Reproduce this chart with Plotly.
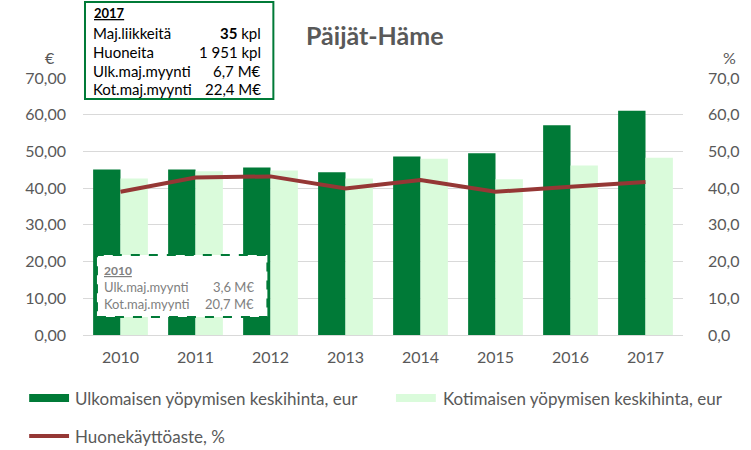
import plotly.graph_objects as go

# ---- data ----
years = ["2010", "2011", "2012", "2013", "2014", "2015", "2016", "2017"]
ulkomainen = [45.1, 45.1, 45.6, 44.3, 48.6, 49.5, 57.1, 61.1]
kotimainen = [42.6, 44.6, 44.8, 42.6, 48.0, 42.4, 46.2, 48.3]
kayttoaste = [39.0, 42.9, 43.2, 39.9, 42.2, 39.0, 40.4, 41.7]

left_tickvals = [0, 10, 20, 30, 40, 50, 60, 70]
left_ticktext = ["0,00", "10,00", "20,00", "30,00", "40,00", "50,00", "60,00", "70,00"]
right_ticktext = ["0,0", "10,0", "20,0", "30,0", "40,0", "50,0", "60,0", "70,0"]

names = ["Ulkomaisen yöpymisen keskihinta, eur",
         "Kotimaisen yöpymisen keskihinta, eur",
         "Huonekäyttöaste, %"]

# ---- style ----
W, H = 751, 450
ML, MR, MT, MB = 83, 66, 78, 115
DARK = "#007A37"
LIGHT = "#DAFBDB"
RED = "#953735"
GRID = "#D9D9D9"
TXT = "#595959"
FONT = "Lato"

PW = W - ML - MR
PH = H - MT - MB


def px(x):
    return (x - ML) / PW


def py(y):
    return (H - MB - y) / PH


fig = go.Figure()
fig.add_trace(go.Bar(x=years, y=ulkomainen, name=names[0], marker_color=DARK,
                     marker_line_width=0, showlegend=False))
fig.add_trace(go.Bar(x=years, y=kotimainen, name=names[1], marker_color=LIGHT,
                     marker_line_width=0, showlegend=False))
fig.add_trace(go.Scatter(x=years, y=kayttoaste, name=names[2], mode="lines",
                         line=dict(color=RED, width=4), yaxis="y2", showlegend=False))

shapes = []
annotations = []

# top info box
shapes.append(dict(type="rect", xref="paper", yref="paper", layer="above",
                   x0=px(85), x1=px(274), y0=py(99), y1=py(2),
                   line=dict(color=DARK, width=2), fillcolor="white"))
top_rows = [("Maj.liikkeitä", "<b>35</b> kpl", 33),
            ("Huoneita", "1 951 kpl", 52),
            ("Ulk.maj.myynti", "6,7 M€", 71),
            ("Kot.maj.myynti", "22,4 M€", 89)]
annotations.append(dict(text="<u><b>2017</b></u>", xref="paper", yref="paper",
                        x=px(92), y=py(13), xanchor="left", yanchor="middle",
                        showarrow=False, font=dict(family=FONT, size=13, color="black")))
for lab, val, yy in top_rows:
    annotations.append(dict(text=lab, xref="paper", yref="paper", x=px(91), y=py(yy),
                            xanchor="left", yanchor="middle", showarrow=False,
                            font=dict(family=FONT, size=15, color="black")))
    annotations.append(dict(text=val, xref="paper", yref="paper", x=px(264), y=py(yy),
                            xanchor="right", yanchor="middle", showarrow=False,
                            font=dict(family=FONT, size=15, color="black")))

# 2010 info box
shapes.append(dict(type="rect", xref="paper", yref="paper", layer="above",
                   x0=px(97), x1=px(268), y0=py(317), y1=py(255),
                   line=dict(color=DARK, width=2, dash="dash"), fillcolor="white"))
annotations.append(dict(text="<u><b>2010</b></u>", xref="paper", yref="paper",
                        x=px(102), y=py(270), xanchor="left", yanchor="middle",
                        showarrow=False, font=dict(family=FONT, size=12, color="#808080")))
for lab, val, yy in [("Ulk.maj.myynti", "3,6 M€", 287), ("Kot.maj.myynti", "20,7 M€", 304)]:
    annotations.append(dict(text=lab, xref="paper", yref="paper", x=px(102), y=py(yy),
                            xanchor="left", yanchor="middle", showarrow=False,
                            font=dict(family=FONT, size=13, color="#808080")))
    annotations.append(dict(text=val, xref="paper", yref="paper", x=px(257), y=py(yy),
                            xanchor="right", yanchor="middle", showarrow=False,
                            font=dict(family=FONT, size=13, color="#808080")))

# title and units
annotations.append(dict(text="<b>Päijät-Häme</b>", xref="paper", yref="paper",
                        x=px(376), y=py(35), xanchor="center", yanchor="middle",
                        showarrow=False, font=dict(family=FONT, size=25, color=TXT)))
annotations.append(dict(text="€", xref="paper", yref="paper", x=px(50), y=py(57),
                        xanchor="center", yanchor="middle", showarrow=False,
                        font=dict(family=FONT, size=16, color=TXT)))
annotations.append(dict(text="%", xref="paper", yref="paper", x=px(732), y=py(57),
                        xanchor="center", yanchor="middle", showarrow=False,
                        font=dict(family=FONT, size=16, color=TXT)))

# custom legend
shapes.append(dict(type="rect", xref="paper", yref="paper", x0=px(29), x1=px(69),
                   y0=py(402), y1=py(394), line=dict(width=0), fillcolor=DARK))
shapes.append(dict(type="rect", xref="paper", yref="paper", x0=px(397), x1=px(437),
                   y0=py(402), y1=py(394), line=dict(width=0), fillcolor=LIGHT))
shapes.append(dict(type="line", xref="paper", yref="paper", x0=px(29), x1=px(69),
                   y0=py(436), y1=py(436), line=dict(color=RED, width=4)))
for text, xx, yy in [(names[0], 73, 398), (names[1], 442, 398), (names[2], 73, 436)]:
    annotations.append(dict(text=text, xref="paper", yref="paper", x=px(xx), y=py(yy),
                            xanchor="left", yanchor="middle", showarrow=False,
                            font=dict(family=FONT, size=17, color=TXT)))

fig.update_layout(
    width=W, height=H,
    margin=dict(l=ML, r=MR, t=MT, b=MB),
    paper_bgcolor="white", plot_bgcolor="white",
    barmode="group", bargap=0.27, bargroupgap=0,
    showlegend=False,
    font=dict(family=FONT, color=TXT),
    xaxis=dict(type="category", showgrid=False, showline=True, linecolor=GRID,
               linewidth=1, ticks="", tickfont=dict(size=16, color=TXT),
               ticklabelstandoff=8),
    yaxis=dict(range=[0, 70], tickvals=left_tickvals, ticktext=left_ticktext,
               showgrid=True, gridcolor=GRID, gridwidth=1, zeroline=False,
               ticks="", tickfont=dict(size=16, color=TXT), ticklabelstandoff=16),
    yaxis2=dict(range=[0, 70], overlaying="y", side="right", tickvals=left_tickvals,
                ticktext=right_ticktext, showgrid=False, zeroline=False, ticks="",
                tickfont=dict(size=16, color=TXT), ticklabelstandoff=24),
    shapes=shapes,
    annotations=annotations,
)

fig.write_html("out.html")
